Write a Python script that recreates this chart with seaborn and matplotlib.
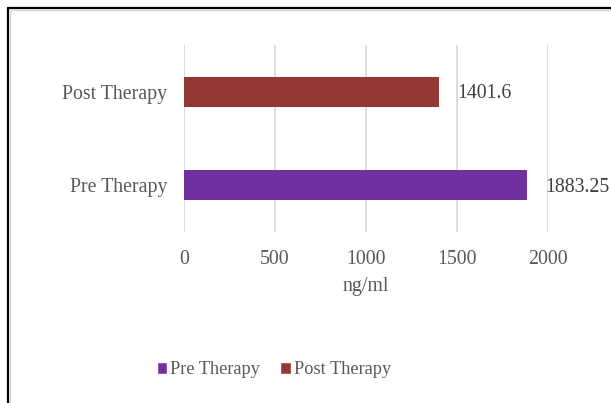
import matplotlib
matplotlib.use("Agg")
import matplotlib.pyplot as plt
import seaborn as sns
import pandas as pd
from matplotlib.lines import Line2D
from matplotlib.patches import Patch

categories = ["Post Therapy", "Pre Therapy"]
values = [1401.6, 1883.25]
colors = ["#953735", "#7030A0"]
value_labels = ["1401.6", "1883.25"]
x_ticks = [0, 500, 1000, 1500, 2000]
x_label = "ng/ml"

sns.set_theme(style="white")
plt.rcParams["font.family"] = ["Liberation Serif", "DejaVu Serif"]
text_color = "#595959"
fs = 14.3
legend_fs = 13.2

df = pd.DataFrame({"group": categories, "value": values})

fig = plt.figure(figsize=(6.11, 4.03), dpi=100)
W, H = 611, 403
left, right = 184 / W, 548 / W
top, bottom = 1 - 45 / H, 1 - 232 / H
ax = fig.add_axes([left, bottom, right - left, top - bottom])

sns.barplot(data=df, x="value", y="group", hue="group", palette=colors,
            order=categories, hue_order=categories, width=0.32,
            legend=False, ax=ax, saturation=1, linewidth=0, zorder=3)

ax.set_xlim(0, 2000)
ax.set_ylim(1.5, -0.5)
ax.set_xticks(x_ticks)
ax.set_xticklabels([str(t) for t in x_ticks])
ax.grid(axis="x", color="#d9d9d9", linewidth=1.3, zorder=0)
ax.grid(axis="y", visible=False)
for s in ax.spines.values():
    s.set_visible(False)
ax.tick_params(axis="both", length=0, labelsize=fs, colors=text_color)
ax.tick_params(axis="x", pad=13)
ax.tick_params(axis="y", pad=12)
ax.set_ylabel("")
ax.set_xlabel(x_label, fontsize=fs, color=text_color, labelpad=6)

for i, (v, lab) in enumerate(zip(values, value_labels)):
    ax.annotate(lab, xy=(v, i), xytext=(13, -1.5), textcoords="offset points",
                ha="left", va="center", fontsize=fs, color="#404040")

handles = [Patch(facecolor=colors[1], label="Pre Therapy"),
           Patch(facecolor=colors[0], label="Post Therapy")]
fig.legend(handles=handles, loc="center", bbox_to_anchor=(274 / W, 1 - 370 / H),
           ncol=2, frameon=False, fontsize=legend_fs, handlelength=0.55,
           handleheight=0.55, handletextpad=0.2, columnspacing=1.1,
           labelcolor=text_color)

# outer frame (top and left edges)
fig.add_artist(Line2D([8 / W, 8 / W], [0, 1 - 8 / H], color="black", linewidth=1.6,
                      transform=fig.transFigure))
fig.add_artist(Line2D([8 / W, 1], [1 - 8 / H, 1 - 8 / H], color="black", linewidth=1.6,
                      transform=fig.transFigure))
fig.add_artist(Line2D([10 / W, 10 / W], [0, 1 - 10 / H], color="#d0d0d0", linewidth=0.8,
                      transform=fig.transFigure))
fig.add_artist(Line2D([10 / W, 1], [1 - 10 / H, 1 - 10 / H], color="#d0d0d0", linewidth=0.8,
                      transform=fig.transFigure))

fig.savefig("out.png", dpi=100, facecolor="white")
